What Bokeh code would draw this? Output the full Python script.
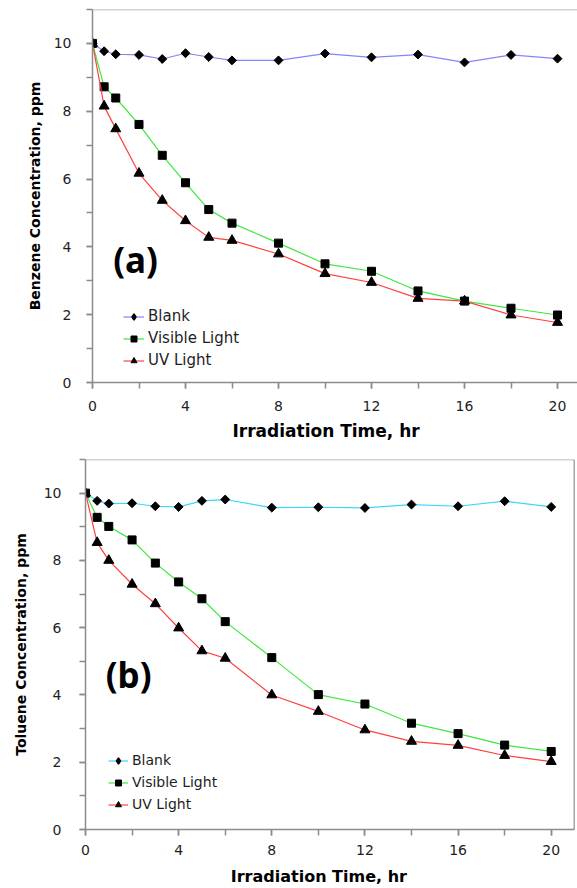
import math
from bokeh.plotting import figure
from bokeh.models import Range1d, SingleIntervalTicker, Legend, LegendItem, Label, Span
from bokeh.embed import file_html
from bokeh.resources import INLINE

# ---- data ----
time_hr = [0, 0.5, 1, 2, 3, 4, 5, 6, 8, 10, 12, 14, 16, 18, 20]

benzene_blank = [10, 9.77, 9.68, 9.66, 9.54, 9.71, 9.60, 9.50, 9.50, 9.70, 9.59, 9.67, 9.44, 9.66, 9.55]
benzene_visible = [10, 8.72, 8.39, 7.61, 6.70, 5.89, 5.10, 4.70, 4.11, 3.50, 3.28, 2.70, 2.40, 2.19, 1.99]
benzene_uv = [10, 8.15, 7.48, 6.17, 5.37, 4.77, 4.28, 4.19, 3.79, 3.21, 2.95, 2.48, 2.40, 1.99, 1.77]

toluene_blank = [10, 9.77, 9.69, 9.70, 9.61, 9.59, 9.77, 9.81, 9.57, 9.58, 9.56, 9.66, 9.61, 9.76, 9.59]
toluene_visible = [10, 9.28, 9.01, 8.61, 7.92, 7.36, 6.86, 6.18, 5.11, 4.01, 3.73, 3.16, 2.85, 2.51, 2.32]
toluene_uv = [10, 8.53, 8.00, 7.29, 6.71, 5.99, 5.31, 5.09, 4.00, 3.51, 2.96, 2.62, 2.50, 2.20, 2.02]

series_names = ["Blank", "Visible Light", "UV Light"]
x_title = "Irradiation Time, hr"
y_title_a = "Benzene Concentration, ppm"
y_title_b = "Toluene Concentration, ppm"
panel_tags = ["(a)", "(b)"]

AXIS_COLOR = "#8c8c8c"
TEXT_COLOR = "#1e1e1e"
FONT = "DejaVu Sans"
NBSP = "\u00a0"


def make_panel(ys, blank_color, y_title, tag, tag_xy, cfg):
    p = figure(width=cfg["width"], height=cfg["height"],
               x_range=Range1d(0, cfg["x_end"]), y_range=Range1d(0, 11),
               output_backend="svg", toolbar_location=None,
               min_border_left=cfg["bl"], min_border_right=cfg["br"],
               min_border_top=cfg["bt"], min_border_bottom=cfg["bb"])
    p.outline_line_color = None
    p.xgrid.visible = False
    p.ygrid.visible = False
    p.background_fill_color = "white"
    p.border_fill_color = "white"

    for ax in (p.xaxis[0], p.yaxis[0]):
        ax.axis_line_color = AXIS_COLOR
        ax.axis_line_width = 1.5
        ax.major_tick_line_color = AXIS_COLOR
        ax.minor_tick_line_color = AXIS_COLOR
        ax.major_tick_line_width = 1.5
        ax.minor_tick_line_width = 1.5
        ax.major_tick_in = 0
        ax.minor_tick_in = 0
        ax.major_tick_out = 6
        ax.minor_tick_out = 6
        ax.major_label_text_font = FONT
        ax.major_label_text_font_size = "14px"
        ax.major_label_text_color = TEXT_COLOR
        ax.axis_label_text_font = FONT
        ax.axis_label_text_font_style = "bold"
        ax.axis_label_text_color = "black"

    p.xaxis.ticker = SingleIntervalTicker(interval=4, num_minor_ticks=2)
    p.yaxis.ticker = SingleIntervalTicker(interval=2, num_minor_ticks=2)
    # trailing no-break spaces nudge the centred title a little left, as in the reference
    p.xaxis.axis_label = x_title + NBSP * cfg["xt_pad"]
    p.yaxis.axis_label = y_title
    p.xaxis.axis_label_text_font_size = cfg["xt_size"]
    p.yaxis.axis_label_text_font_size = cfg["yt_size"]
    p.xaxis.major_label_standoff = cfg["x_ls"]
    p.yaxis.major_label_standoff = cfg["y_ls"]
    p.xaxis.axis_label_standoff = cfg["x_ts"]
    p.yaxis.axis_label_standoff = cfg["y_ts"]

    colors = [blank_color, "#3ee83e", "#ff4040"]
    items = []
    for i, (yv, col) in enumerate(zip(ys, colors)):
        lr = p.line(time_hr, yv, line_color=col, line_width=1.2)
        if i == 0:
            # upright diamond used for the legend swatch (hidden under the rotated squares)
            lg = p.scatter(time_hr, yv, marker="diamond", size=6,
                           fill_color="black", line_color="black", line_width=1.5)
            p.scatter(time_hr, yv, marker="square", angle=math.pi / 4, size=6.3,
                      fill_color="black", line_color="black")
            items.append(LegendItem(label=series_names[i], renderers=[lr, lg]))
            continue
        elif i == 1:
            sr = p.scatter(time_hr, yv, marker="square", size=8,
                           fill_color="black", line_color="black")
        else:
            sr = p.scatter(time_hr, yv, marker="triangle", size=10,
                           fill_color="black", line_color="black")
        items.append(LegendItem(label=series_names[i], renderers=[lr, sr]))

    leg = Legend(items=items, location=cfg["leg_loc"], orientation="vertical",
                 glyph_width=cfg["leg_gw"], glyph_height=15, label_height=20,
                 label_standoff=4, spacing=cfg["leg_sp"], padding=0, margin=0,
                 border_line_alpha=0, background_fill_alpha=0,
                 label_text_font=FONT, label_text_font_size=cfg["leg_fs"],
                 label_text_color=TEXT_COLOR)
    p.add_layout(leg)

    p.add_layout(Label(x=tag_xy[0], y=tag_xy[1], text=tag, text_font="Noto Sans",
                       text_font_style="bold", text_font_size="35px",
                       text_align="center", text_baseline="middle", text_color="black"))

    p.add_layout(Span(location=11, dimension="width", line_color="#a8a8a8", line_width=1.5))
    if cfg.get("right_border"):
        p.add_layout(Span(location=cfg["x_end"], dimension="height",
                          line_color="#505050", line_width=1.5))
    return p


cfg_a = dict(width=577, height=443, x_end=20.86, bl=92, br=0, bt=9, bb=60,
             xt_size="17px", yt_size="14px", x_ls=12, y_ls=15, x_ts=7, y_ts=8, xt_pad=3,
             leg_loc=(31, 12), leg_gw=21, leg_sp=2, leg_fs="15px")
cfg_b = dict(width=577, height=445, x_end=21, bl=85, br=3, bt=16, bb=58,
             xt_size="16px", yt_size="14px", x_ls=9, y_ls=18, x_ts=9, y_ts=12, xt_pad=4,
             leg_loc=(23, 15), leg_gw=20, leg_sp=2, leg_fs="14px", right_border=True)

pa = make_panel([benzene_blank, benzene_visible, benzene_uv], "#8484ff",
                y_title_a, panel_tags[0], (1.85, 3.62), cfg_a)
pb = make_panel([toluene_blank, toluene_visible, toluene_uv], "#3ad8ff",
                y_title_b, panel_tags[1], (1.85, 4.6), cfg_b)

# two separate roots so the frames keep their own left borders (92 px and 85 px)
open("out.html", "w").write(file_html([pa, pb], INLINE))
